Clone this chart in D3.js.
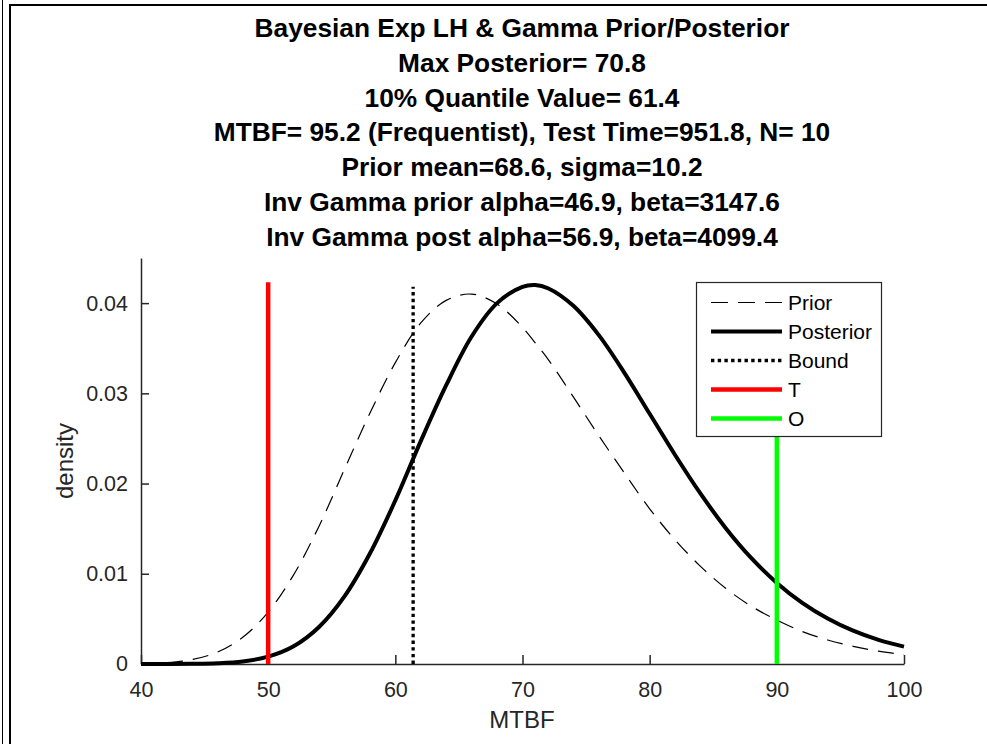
<!DOCTYPE html>
<html>
<head>
<meta charset="utf-8">
<script src="https://cdn.jsdelivr.net/npm/d3@7"></script>
<style>
  body { margin: 0; background: #fff; }
  svg, svg text { font-family: "Liberation Sans", Arial, Helvetica, sans-serif; }
  .axis path, .axis line { stroke: #262626; stroke-width: 1.5; }
  .axis text { fill: #262626; font-size: 21.5px; font-family: "Liberation Sans", Arial, Helvetica, sans-serif; }
</style>
</head>
<body>
<svg width="987" height="744"></svg>
<script>
var titleLines = [
    "Bayesian Exp LH & Gamma Prior/Posterior",
    "Max Posterior= 70.8",
    "10% Quantile Value= 61.4",
    "MTBF= 95.2 (Frequentist), Test Time=951.8, N= 10",
    "Prior mean=68.6, sigma=10.2",
    "Inv Gamma prior alpha=46.9, beta=3147.6",
    "Inv Gamma post alpha=56.9, beta=4099.4"
];

var mtbf = [40, 42, 44, 46, 48, 50, 52, 54, 56, 58, 60, 62, 64, 66, 68, 70, 71, 72,
    74, 76, 78, 80, 82, 84, 86, 88, 90, 92, 94, 96, 98, 100];
var priorDensity = [0.00004, 0.00015, 0.00049, 0.00131, 0.00296, 0.00575, 0.00988, 0.01528,
    0.02158, 0.0278, 0.0334, 0.0378, 0.0403, 0.0410, 0.0399, 0.0373, 0.0356, 0.0338,
    0.0296, 0.0253, 0.0212, 0.0172, 0.01376, 0.01082, 0.00836, 0.0064, 0.00486, 0.0036,
    0.00266, 0.00196, 0.00142, 0.00103];
var postDensity = [0, 0.000003, 0.00002, 0.00008, 0.00028, 0.00081, 0.00196, 0.0041,
    0.00749, 0.01224, 0.01813, 0.0247, 0.0309, 0.0363, 0.0400, 0.0418, 0.0420, 0.04165,
    0.0397, 0.03645, 0.0323, 0.02773, 0.02317, 0.01888, 0.01503, 0.01173, 0.00899, 0.00678,
    0.00504, 0.00369, 0.00267, 0.00192];

// vertical markers: target, observed, 10% bound
var targetMtbf = 50, observedMtbf = 90, boundMtbf = 61.4;
var markerTop = 0.0423, boundTop = 0.0418;

var xTicks = [40, 50, 60, 70, 80, 90, 100];
var yTicks = [0, 0.01, 0.02, 0.03, 0.04];
var legendLabels = ["Prior", "Posterior", "Bound", "T", "O"];

var svg = d3.select("svg");

// figure frame like the screenshot edge
svg.append("line").attr("x1", 2.5).attr("x2", 2.5).attr("y1", 0).attr("y2", 744)
    .attr("stroke", "#000").attr("stroke-width", 1);
svg.append("line").attr("x1", 10).attr("x2", 10).attr("y1", 4).attr("y2", 744)
    .attr("stroke", "#000").attr("stroke-width", 2);
svg.append("line").attr("x1", 9).attr("x2", 987).attr("y1", 5).attr("y2", 5)
    .attr("stroke", "#000").attr("stroke-width", 2);

var x = d3.scaleLinear().domain([40, 100]).range([141, 904]),
    y = d3.scaleLinear().domain([0, 0.045]).range([664, 258]);

// title
svg.append("g").selectAll("text")
    .data(titleLines)
    .enter().append("text")
    .attr("x", 522)
    .attr("y", function (d, i) { return 37 + i * 34.8; })
    .attr("text-anchor", "middle")
    .attr("font-weight", "bold")
    .attr("font-size", "26.3px")
    .attr("fill", "#000")
    .text(function (d) { return d; });

// axes
svg.append("g")
    .attr("class", "axis")
    .attr("transform", "translate(0,664)")
    .call(d3.axisBottom(x).tickValues(xTicks).tickSizeInner(-9).tickSizeOuter(0).tickPadding(18)
        .tickFormat(d3.format("d")));

svg.append("g")
    .attr("class", "axis")
    .attr("transform", "translate(141,0)")
    .call(d3.axisLeft(y).tickValues(yTicks).tickSizeInner(-8).tickSizeOuter(0).tickPadding(13)
        .tickFormat(function (d) { return d === 0 ? "0" : d3.format(".2f")(d); }));

svg.append("text")
    .attr("x", 522).attr("y", 728)
    .attr("text-anchor", "middle")
    .attr("font-size", "24px").attr("fill", "#262626")
    .text("MTBF");

svg.append("text")
    .attr("transform", "translate(73,461) rotate(-90)")
    .attr("text-anchor", "middle")
    .attr("font-size", "24px").attr("fill", "#262626")
    .text("density");

// curves
var priorData = mtbf.map(function (m, i) { return [m, priorDensity[i]]; });
var postData = mtbf.map(function (m, i) { return [m, postDensity[i]]; });

var line = d3.line()
    .x(function (d) { return x(d[0]); })
    .y(function (d) { return y(d[1]); })
    .curve(d3.curveCatmullRom);

svg.append("path").datum(priorData)
    .attr("d", line).attr("fill", "none")
    .attr("stroke", "#000").attr("stroke-width", 1.2)
    .attr("stroke-dasharray", "16,10");

svg.append("path").datum(postData)
    .attr("d", line).attr("fill", "none")
    .attr("stroke", "#000").attr("stroke-width", 4);

svg.append("line")
    .attr("x1", x(boundMtbf)).attr("x2", x(boundMtbf))
    .attr("y1", y(0)).attr("y2", y(boundTop))
    .attr("stroke", "#000").attr("stroke-width", 3.3)
    .attr("stroke-dasharray", "3.4,3.3");

svg.append("line")
    .attr("x1", x(targetMtbf)).attr("x2", x(targetMtbf))
    .attr("y1", y(0)).attr("y2", y(markerTop))
    .attr("stroke", "#ff0000").attr("stroke-width", 4.5);

svg.append("line")
    .attr("x1", x(observedMtbf)).attr("x2", x(observedMtbf))
    .attr("y1", y(0)).attr("y2", y(markerTop))
    .attr("stroke", "#00ff00").attr("stroke-width", 4.5);

// legend
var legend = svg.append("g").attr("transform", "translate(696,282)");
legend.append("rect")
    .attr("x", 0.5).attr("y", 0.5).attr("width", 185).attr("height", 154)
    .attr("fill", "#fff").attr("stroke", "#262626").attr("stroke-width", 1.2);

var legendStyles = [
    { stroke: "#000", width: 1.2, dash: "17,10" },
    { stroke: "#000", width: 4, dash: null },
    { stroke: "#000", width: 3.3, dash: "3.4,3.3" },
    { stroke: "#ff0000", width: 4.5, dash: null },
    { stroke: "#00ff00", width: 4.5, dash: null }
];

var item = legend.selectAll(".item")
    .data(legendLabels)
    .enter().append("g")
    .attr("class", "item")
    .attr("transform", function (d, i) { return "translate(0," + (20.5 + i * 29) + ")"; });

item.append("line")
    .attr("x1", 15).attr("x2", 86)
    .attr("stroke", function (d, i) { return legendStyles[i].stroke; })
    .attr("stroke-width", function (d, i) { return legendStyles[i].width; })
    .attr("stroke-dasharray", function (d, i) { return legendStyles[i].dash; });

item.append("text")
    .attr("x", 92).attr("y", 7.5)
    .attr("font-size", "21px").attr("fill", "#000")
    .text(function (d) { return d; });
</script>
</body>
</html>
